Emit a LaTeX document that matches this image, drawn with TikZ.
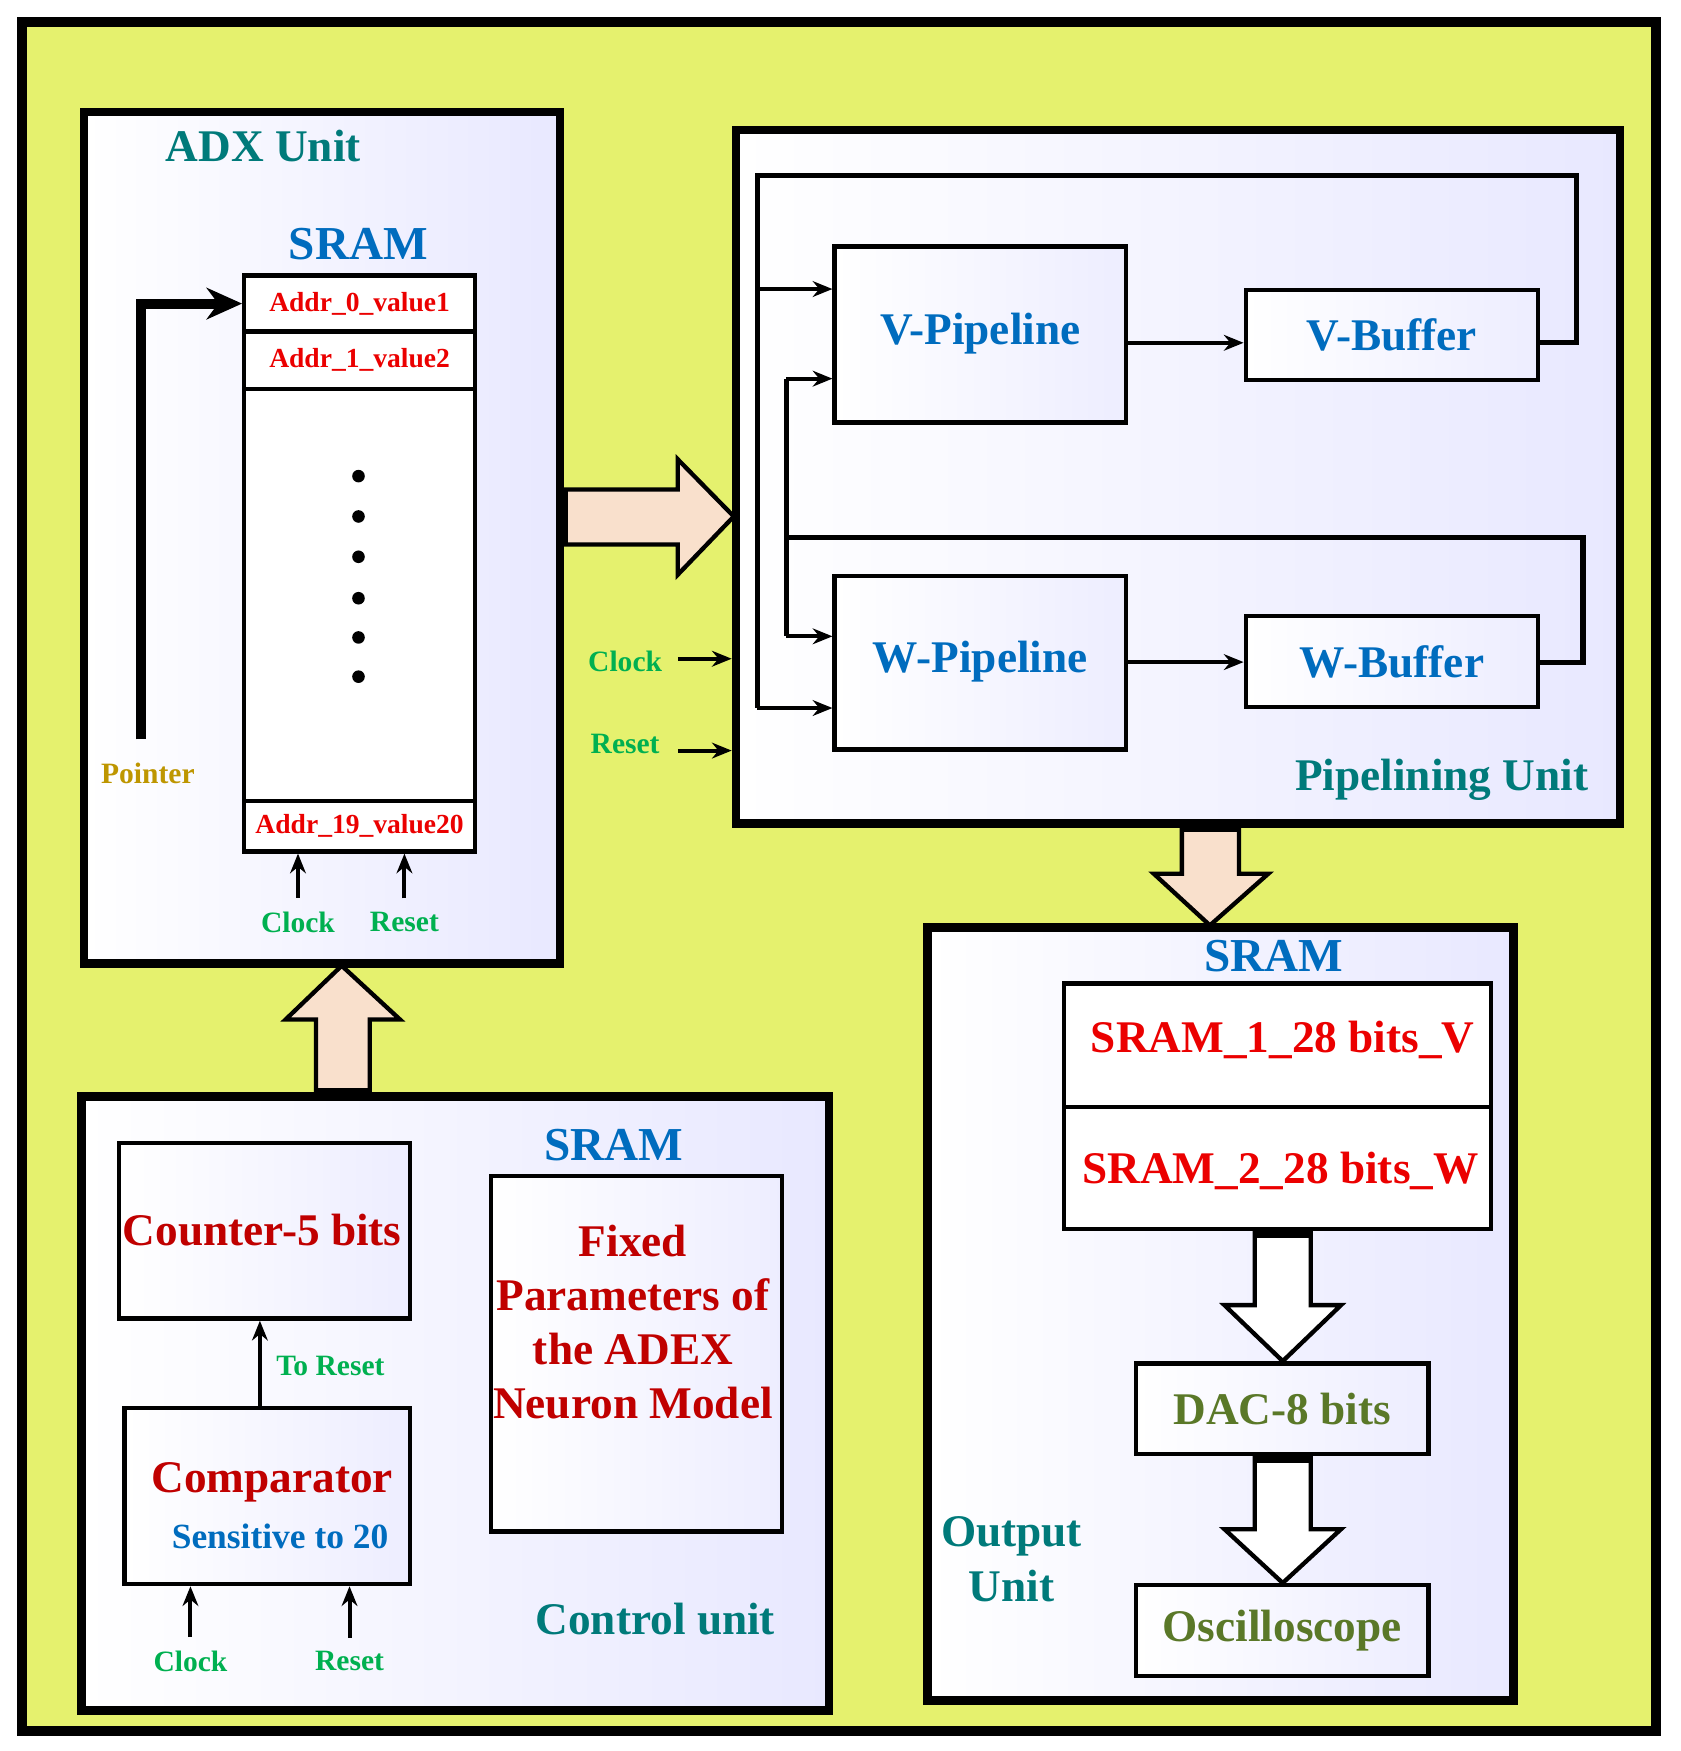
\documentclass[tikz,border=0pt]{standalone}
\usepackage{fontspec}
\setmainfont{Liberation Serif}
\usetikzlibrary{fit,arrows.meta}
\definecolor{bgyellow}{RGB}{229,241,110}
\definecolor{tealt}{RGB}{0,122,122}
\definecolor{bluet}{RGB}{0,108,190}
\definecolor{redt}{RGB}{235,0,0}
\definecolor{dredt}{RGB}{192,0,0}
\definecolor{greent}{RGB}{0,176,80}
\definecolor{olivet}{RGB}{90,120,40}
\definecolor{goldt}{RGB}{190,150,0}
\definecolor{peach}{RGB}{249,224,204}
\tikzset{
  unit/.style={draw, line width=2.2pt, inner sep=0pt, left color=white, right color=blue!9!white},
  box/.style={draw, line width=1.1pt, inner sep=0pt, left color=white, right color=blue!7!white},
  cell/.style={draw, line width=1.1pt, inner sep=0pt, fill=white},
  title/.style={font=\bfseries\fontsize{11.5}{14}\selectfont, text=tealt},
  sram/.style={font=\bfseries\fontsize{12}{14}\selectfont, text=bluet},
  addr/.style={font=\bfseries\fontsize{7}{9}\selectfont, text=redt},
  sig/.style={font=\bfseries\fontsize{7.5}{9}\selectfont, text=greent},
  big/.style={font=\bfseries\fontsize{11.5}{14}\selectfont},
  arr/.style={-{Stealth[length=5pt,width=4pt]}, line width=1pt},
  fat/.style={draw, line width=1.1pt},
}
\begin{document}
\begin{tikzpicture}[x=0.1mm, y=-0.1mm]
\useasboundingbox (0,0) rectangle (1500,1563);

% background
\node[draw, line width=2.5pt, fill=bgyellow, inner sep=0pt, fit={(20,20)(1478,1545)}] (bg) {};

% ADX unit
\node[unit, fit={(75,100)(500,860)}] (adx) {};
\node[title] (adxt) at (235,130) {ADX Unit};
\node[sram] (adxs) at (320,218) {SRAM};
\node[cell, fit={(218,246)(424,296)}] (a0) {};
\node[cell, fit={(218,296)(424,347)}] (a1) {};
\node[cell, fit={(218,347)(424,715)}] (amid) {};
\node[cell, fit={(218,715)(424,760)}] (a19) {};
\node[addr] (a0t) at (a0) {Addr\_0\_value1};
\node[addr] (a1t) at (a1) {Addr\_1\_value2};
\node[addr] (a19t) at (a19) {Addr\_19\_value20};
\foreach \y in {425,461,497,534,569,604}
  \fill (320,\y) circle (1.6pt);
\coordinate (ptr) at (126,660);
\draw[-{Stealth[length=9pt,width=8pt]}, line width=2.5pt] (ptr) |- (a0.west);
\node[font=\bfseries\fontsize{7.5}{9}\selectfont, text=goldt] (ptrt) at (132,690) {Pointer};
\node[sig] (aclk) at (266,823) {Clock};
\node[sig] (arst) at (361,823) {Reset};
\draw[arr] (aclk.north) -- (aclk.north |- a19.south);
\draw[arr] (arst.north) -- (arst.north |- a19.south);

% big arrows
\draw[fat, fill=peach] (505,437) -- (605,437) -- (605,410) -- (655,461) -- (605,513) -- (605,486) -- (505,486) -- cycle;
\draw[fat, fill=peach] (1055,737) -- (1106,737) -- (1106,780) -- (1132,780) -- (1080,826) -- (1030,780) -- (1055,780) -- cycle;
\draw[fat, fill=peach] (282,975) -- (282,910) -- (255,910) -- (305,862) -- (357,910) -- (330,910) -- (330,975) -- cycle;

% Pipelining unit
\node[unit, fit={(657,116)(1446,735)}] (pipe) {};
\node[box, fit={(745,220)(1005,377)}] (vp) {};
\node[box, fit={(1112,259)(1373,339)}] (vb) {};
\node[box, fit={(745,514)(1005,669)}] (wp) {};
\node[box, fit={(1112,550)(1373,631)}] (wb) {};
\node[big, text=bluet] (vpt) at (875,298) {V-Pipeline};
\node[big, text=bluet] (vbt) at (vb) {V-Buffer};
\node[big, text=bluet] (wpt) at (875,591) {W-Pipeline};
\node[big, text=bluet] (wbt) at (wb) {W-Buffer};
\draw[arr] (1005,306) -- (vb.west |- 0,306);
\draw[arr] (wp.east |- 0,591) -- (wb.west |- 0,591);
\draw[line width=1.3pt] (vb.east |- 0,306) -| (1407,157) -| (676,632);
\draw[arr] (676,258) -- (vp.west |- 0,258);
\draw[arr] (676,632) -- (wp.west |- 0,632);
\draw[line width=1.3pt] (wb.east |- 0,591) -| (1413,480) -- (702,480);
\draw[line width=1.3pt] (702,338) -- (702,568);
\draw[arr] (702,338) -- (vp.west |- 0,338);
\draw[arr] (702,568) -- (wp.west |- 0,568);
\node[sig] (pclk) at (558,590) {Clock};
\node[sig] (prst) at (558,664) {Reset};
\draw[arr] (605,588) -- (pipe.west |- 0,588);
\draw[arr] (605,670) -- (pipe.west |- 0,670);
\node[title] (pipet) at (1287,696) {Pipelining Unit};

% Output unit
\node[unit, fit={(828,828)(1351,1518)}] (out) {};
\node[sram] (outs) at (1137,853) {SRAM};
\node[cell, fit={(950,878)(1331,988)}] (s1) {};
\node[cell, fit={(950,988)(1331,1097)}] (s2) {};
\node[big, text=redt] (s1t) at (1145,928) {SRAM\_1\_28 bits\_V};
\node[big, text=redt] (s2t) at (1143,1045) {SRAM\_2\_28 bits\_W};
\node[box, fit={(1014,1217)(1275,1298)}] (dac) {};
\node[box, fit={(1014,1415)(1275,1496)}] (osc) {};
\node[big, text=olivet] (dact) at (dac) {DAC-8 bits};
\node[big, text=olivet] (osct) at (osc) {Oscilloscope};
\draw[fat, fill=white] (1120,1099) -- (1170,1099) -- (1170,1165) -- (1197,1165) -- (1145,1215) -- (1093,1165) -- (1120,1165) -- cycle;
\draw[fat, fill=white] (1120,1300) -- (1170,1300) -- (1170,1365) -- (1197,1365) -- (1145,1413) -- (1093,1365) -- (1120,1365) -- cycle;
\fill (1120,1097) rectangle (1170,1105);
\fill (1120,1298) rectangle (1170,1306);
\node[title, align=center] (outt) at (903,1392) {Output\\Unit};

% Control unit
\node[unit, fit={(73,979)(740,1527)}] (ctrl) {};
\fill (282,971) rectangle (330,979);
\fill (1055,735) rectangle (1106,743);
\node[box, fit={(106,1020)(366,1177)}] (cnt) {};
\node[big, text=dredt] (cntt) at (234,1098) {Counter-5 bits};
\node[box, fit={(111,1257)(366,1414)}] (cmp) {};
\node[big, text=dredt] (cmpt) at (243,1323) {Comparator};
\node[font=\bfseries\fontsize{9}{11}\selectfont, text=bluet] (cmps) at (250,1371) {Sensitive to 20};
\draw[arr] (cmp.north -| 232,0) -- (cnt.south -| 232,0);
\node[sig] (torst) at (295,1219) {To Reset};
\node[sig] (cclk) at (170,1483) {Clock};
\node[sig] (crst) at (312,1483) {Reset};
\draw[arr] (cclk.north) -- (cclk.north |- cmp.south);
\draw[arr] (crst.north) -- (crst.north |- cmp.south);
\node[sram] (ctrls) at (548,1022) {SRAM};
\node[box, fit={(438,1050)(698,1367)}] (fix) {};
\node[text=dredt, align=center, font=\bfseries\fontsize{11.5}{13.7}\selectfont] (fixt) at (565,1180) {Fixed\\Parameters of\\the ADEX\\Neuron Model};
\node[title] (ctrlt) at (585,1445) {Control unit};
\end{tikzpicture}
\end{document}
